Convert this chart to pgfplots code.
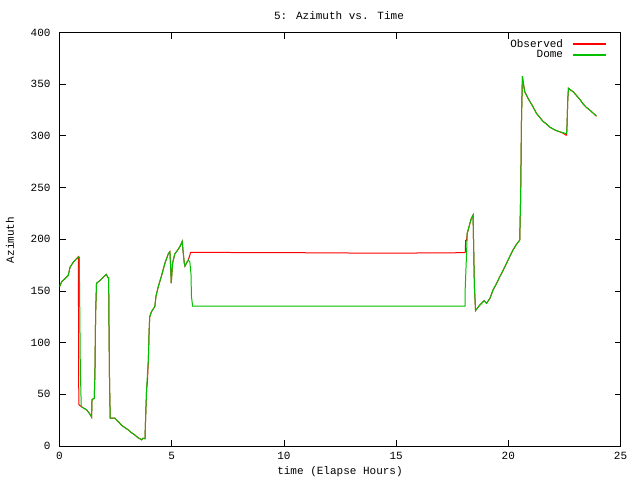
\documentclass[border=0pt]{standalone}
\usepackage{fontspec}
\setmainfont{Liberation Mono}
\usepackage{pgfplots}
\pgfplotsset{compat=1.18}
\definecolor{gpred}{RGB}{255,0,0}
\definecolor{gpgreen}{RGB}{0,192,0}
\begin{document}
\begin{tikzpicture}[font=\fontsize{11}{12}\selectfont]
\useasboundingbox (0,0) rectangle (640pt,480pt);
\begin{axis}[
  at={(59.5pt,34pt)}, anchor=south west,
  scale only axis, width=561pt, height=413.5pt,
  xmin=0, xmax=25, ymin=0, ymax=400,
  xtick={0,5,...,25}, ytick={0,50,...,400},
  tick align=inside, major tick length=6pt,
  minor tick num=0,
  axis line style={black, line width=0.8pt},
  every tick/.style={black, line width=0.8pt},
  /pgf/number format/assume math mode=true,
  yticklabel style={xshift=-5.5pt},
  xticklabel style={yshift=-3pt},
  legend cell align=right,
  legend plot pos=right,
  legend style={at={(1,1)}, anchor=north east, xshift=-13pt, yshift=-3.5pt, draw=none, fill=none,
    row sep=-2pt, inner sep=1pt, font=\fontsize{11}{12}\selectfont,
    /tikz/every odd column/.append style={column sep=7pt}},
]
\addplot[gpred, line width=1pt, sharp plot,
  legend image code/.code={\draw[red, line width=1.2pt] (0pt,0pt) -- (33pt,0pt);}] coordinates {
(0,154) (0.1,159) (0.25,162) (0.39,165) (0.47,173) (0.62,178) (0.75,181) (0.84,183)
(0.85,112) (0.86,40) (1.05,37) (1.21,35) (1.35,31) (1.43,28) (1.45,45) (1.55,46)
(1.58,72) (1.61,128) (1.65,157.5) (1.8,160) (2.03,165) (2.08,166) (2.16,163) (2.19,163)
(2.2,130) (2.23,62) (2.26,27) (2.47,27) (2.6,24) (2.77,20) (2.9,18) (3.07,15.5) (3.2,13)
(3.36,10.6) (3.5,8) (3.59,7) (3.66,6) (3.72,7.5) (3.81,7) (3.83,22) (3.88,54) (3.92,63)
(3.96,83) (3.99,109) (4.02,125) (4.1,130) (4.25,135) (4.3,145) (4.4,154) (4.55,165)
(4.7,177) (4.85,186) (4.92,188) (4.95,175) (4.98,157.6) (5.04,177) (5.14,186) (5.25,189)
(5.37,193) (5.47,198) (5.5,190) (5.56,177) (5.59,174) (5.66,177) (5.74,180) (5.81,184.7)
(5.84,187.3) (10.5,187) (14.5,186.5) (18.05,187) (18.08,187.3) (18.1,199) (18.14,199)
(18.17,205.7) (18.29,215.4) (18.35,220) (18.43,223.4) (18.45,199) (18.49,154) (18.54,131)
(18.73,136.4) (18.92,140.5) (19.03,138) (19.18,142.8) (19.32,150.9) (19.47,157) (19.62,163.7)
(19.77,170) (19.92,176.7) (20.06,183) (20.21,189.6) (20.36,195) (20.51,199.2) (20.55,241)
(20.59,318.5) (20.63,357.8) (20.65,354) (20.73,342.7) (20.88,336.3) (21.1,328.2) (21.25,322)
(21.4,317.9) (21.55,314) (21.7,311.4) (21.85,308.5) (22,306.6) (22.15,305) (22.29,304)
(22.45,302.5) (22.56,300.8) (22.6,300.8) (22.62,312) (22.65,334.6) (22.68,346) (22.89,342.7)
(23.04,339) (23.19,335.3) (23.33,331) (23.48,327.5) (23.63,325) (23.78,322) (23.93,319)
};
\addlegendentry{Observed}
\addplot[gpgreen, line width=1pt, sharp plot,
  legend image code/.code={\draw[gpgreen, line width=1.2pt] (0pt,0pt) -- (33pt,0pt);}] coordinates {
(0,154) (0.1,159) (0.25,162) (0.39,165) (0.47,173) (0.62,178) (0.75,181) (0.86,183)
(0.88,183) (0.9,140) (0.93,72) (0.97,38) (1.05,37) (1.21,35) (1.35,31) (1.43,28) (1.45,45)
(1.55,46) (1.58,72) (1.61,128) (1.65,157.5) (1.8,160) (2.03,165) (2.08,166) (2.16,163)
(2.19,163) (2.2,130) (2.23,62) (2.26,27) (2.47,27) (2.6,24) (2.77,20) (2.9,18) (3.07,15.5)
(3.2,13) (3.36,10.6) (3.5,8) (3.59,7) (3.66,6) (3.72,7.5) (3.81,7) (3.83,22) (3.88,54)
(3.92,70) (3.96,83) (3.99,109) (4.02,125) (4.1,130) (4.25,135) (4.3,145) (4.4,154)
(4.55,165) (4.7,177) (4.85,186) (4.92,188) (4.95,175) (4.98,157.6) (5.04,177) (5.14,186)
(5.25,189) (5.37,193) (5.47,198) (5.5,190) (5.56,177) (5.59,174) (5.66,177) (5.74,180)
(5.81,178) (5.86,166) (5.88,145) (5.93,135.4) (18.08,135.4) (18.08,152.5) (18.14,186)
(18.17,205.7) (18.29,215.4) (18.35,220) (18.43,223.4) (18.45,199) (18.49,154) (18.54,131)
(18.73,136.4) (18.92,140.5) (19.03,138) (19.18,142.8) (19.32,150.9) (19.47,157) (19.62,163.7)
(19.77,170) (19.92,176.7) (20.06,183) (20.21,189.6) (20.36,195) (20.51,199.2) (20.55,241)
(20.59,318.5) (20.63,357.8) (20.65,354) (20.73,342.7) (20.88,336.3) (21.1,328.2) (21.25,322)
(21.4,317.9) (21.55,314) (21.7,311.4) (21.85,308.5) (22,306.6) (22.15,305) (22.29,304)
(22.45,303) (22.56,302.4) (22.6,302.4) (22.62,312) (22.65,334.6) (22.68,346) (22.89,342.7)
(23.04,339) (23.19,335.3) (23.33,331) (23.48,327.5) (23.63,325) (23.78,322) (23.93,319)
};
\addlegendentry{Dome}
\end{axis}
\node at (339pt,464pt) {5: Azimuth vs. Time};
\node at (340pt,8pt) {time (Elapse Hours)};
\node[rotate=90] at (10pt,240pt) {Azimuth};
\end{tikzpicture}
\end{document}
